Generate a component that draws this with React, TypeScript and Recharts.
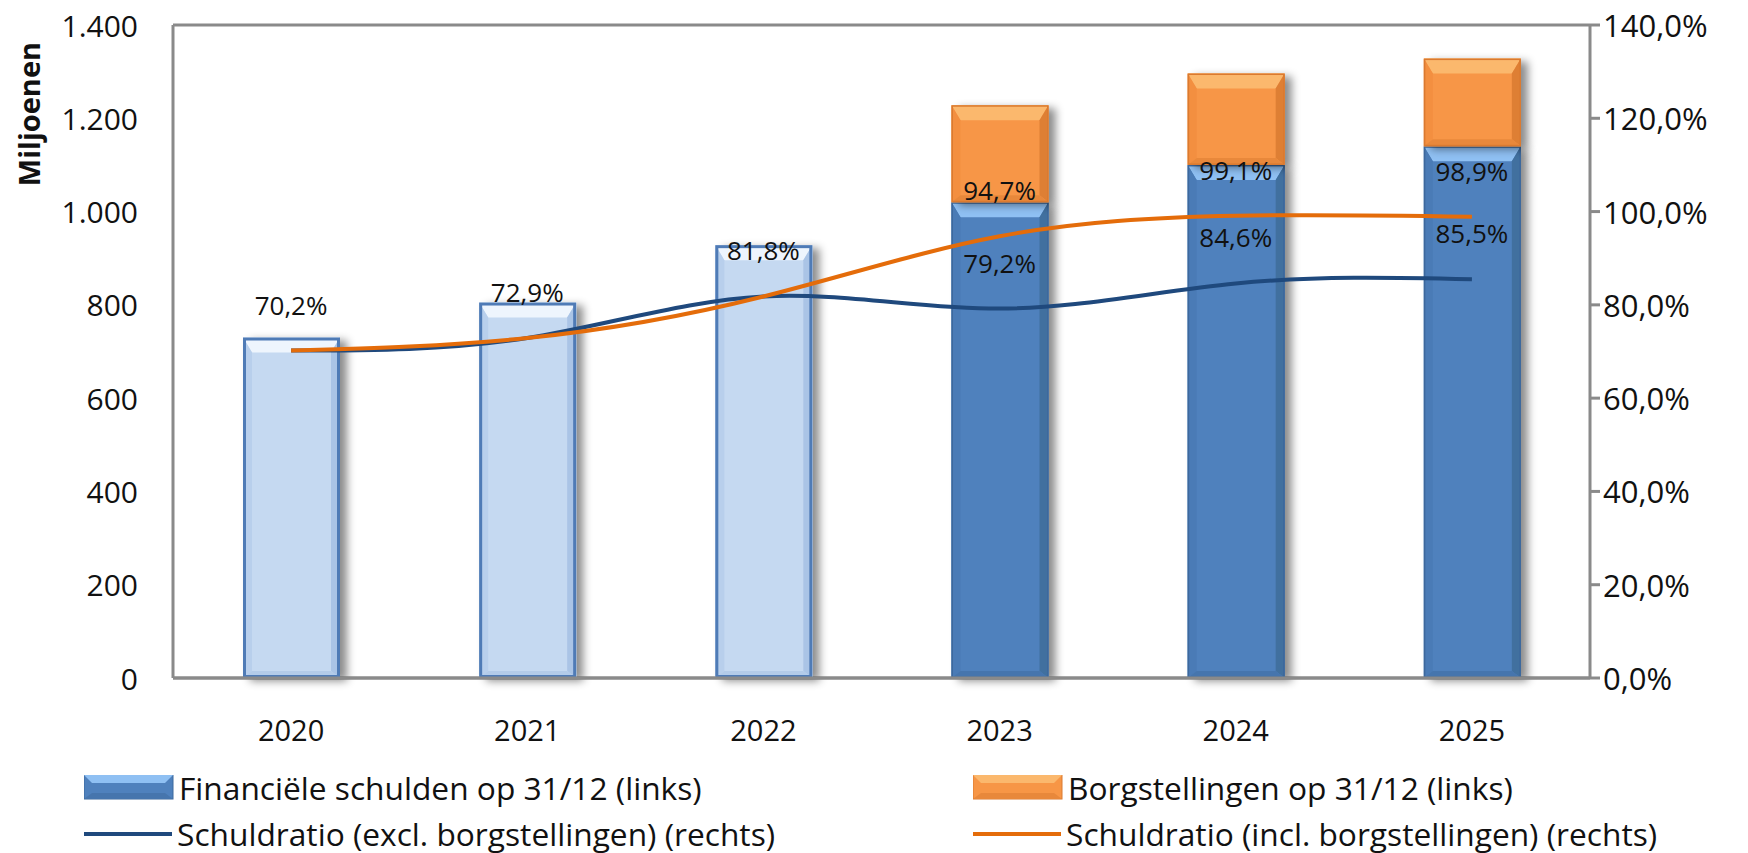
import React from 'react';
import { ComposedChart, Bar, Line, XAxis, YAxis, CartesianGrid, LabelList } from 'recharts';

const years = ['2020', '2021', '2022', '2023', '2024', '2025'];
const financieleSchulden = [730, 805, 928, 1020, 1100, 1140];
const borgstellingen = [null, null, null, 208, 196, 188];
const ratioExcl = [70.2, 72.9, 81.8, 79.2, 84.6, 85.5];
const ratioIncl = [70.2, 72.9, 81.8, 94.7, 99.1, 98.9];
const leftTicks = [0, 200, 400, 600, 800, 1000, 1200, 1400];
const rightTicks = [0, 20, 40, 60, 80, 100, 120, 140];
const firstProjectedYear = '2023';

const legendLabels = [
  'Financiële schulden op 31/12 (links)',
  'Borgstellingen op 31/12 (links)',
  'Schuldratio (excl. borgstellingen) (rechts)',
  'Schuldratio (incl. borgstellingen) (rechts)',
];

const data = years.map((y, i) => ({
  year: y,
  fin: financieleSchulden[i],
  borg: borgstellingen[i],
  excl: ratioExcl[i],
  incl: ratioIncl[i],
}));

const FONT = '"Open Sans", sans-serif';
const GRID = '#8a8a8a';
const BLUE_LINE = '#1f497d';
const ORANGE_LINE = '#e46c0a';

const fmtThousands = (v: number) => String(v).replace(/\B(?=(\d{3})+(?!\d))/g, '.');
const fmtPct = (v: number) => v.toFixed(1).replace('.', ',') + '%';

type Pal = { face: string; top: string; left: string; right: string; bottom: string; edge: string; edgeW: number };

const palLight: Pal = { face: '#c5d9f1', top: '#eef5fd', left: '#b8cfec', right: '#aac4e6', bottom: '#b3cbe9', edge: '#4f7bb6', edgeW: 3 };
const palBlue: Pal = { face: '#4f81bd', top: '#8fc0f3', left: '#4a7bb6', right: '#41709f', bottom: '#4675ad', edge: '#3d689c', edgeW: 1.5 };
const palOrange: Pal = { face: '#f79646', top: '#fbb86d', left: '#f38f40', right: '#de7f34', bottom: '#e8883b', edge: '#da7a30', edgeW: 1.5 };

const bevelShape = (getPal: (idx: number) => Pal) => (props: any) => {
  const { x, y, width, height, index } = props;
  if (height == null || height <= 0 || width <= 0) return <g />;
  const p = getPal(index);
  const s = 9;
  const t = Math.min(15, height / 2);
  const bb = Math.min(7, height / 3);
  return (
    <g>
      <rect x={x} y={y} width={width} height={height} fill={p.face} filter="url(#barShadow)" />
      <polygon points={`${x},${y} ${x + width},${y} ${x + width - s},${y + t} ${x + s},${y + t}`} fill={p.top} />
      <polygon points={`${x},${y} ${x + s},${y + t} ${x + s},${y + height - bb} ${x},${y + height}`} fill={p.left} />
      <polygon points={`${x + width},${y} ${x + width - s},${y + t} ${x + width - s},${y + height - bb} ${x + width},${y + height}`} fill={p.right} />
      <polygon points={`${x},${y + height} ${x + s},${y + height - bb} ${x + width - s},${y + height - bb} ${x + width},${y + height}`} fill={p.bottom} />
      <rect x={x + p.edgeW / 2} y={y + p.edgeW / 2} width={width - p.edgeW} height={height - p.edgeW} fill="none" stroke={p.edge} strokeWidth={p.edgeW} />
    </g>
  );
};

const finShape = bevelShape((i) => (years[i] >= firstProjectedYear ? palBlue : palLight));
const borgShape = bevelShape(() => palOrange);

const makeLabel = (hideWhenSame: boolean) => (props: any) => {
  const { x, y, value, index } = props;
  if (value == null) return null;
  if (hideWhenSame && ratioIncl[index] === ratioExcl[index]) return null;
  return (
    <text x={x} y={y - 46} textAnchor="middle" dominantBaseline="central" fontSize={26} fill="#111" fontFamily={FONT}>
      {fmtPct(value)}
    </text>
  );
};

const LeftTick = (props: any) => {
  const { y, payload } = props;
  return (
    <text x={138} y={y} textAnchor="end" dominantBaseline="central" fontSize={30} fill="#111" fontFamily={FONT}>
      {fmtThousands(payload.value)}
    </text>
  );
};

const RightTick = (props: any) => {
  const { y, payload } = props;
  return (
    <text x={1603} y={y} textAnchor="start" dominantBaseline="central" fontSize={31} fill="#111" fontFamily={FONT}>
      {fmtPct(payload.value)}
    </text>
  );
};

const XTick = (props: any) => {
  const { x, payload } = props;
  return (
    <text x={x} y={729} textAnchor="middle" dominantBaseline="central" fontSize={29} fill="#111" fontFamily={FONT}>
      {payload.value}
    </text>
  );
};

const BarSwatch = ({ pal }: { pal: Pal }) => (
  <svg width={90} height={26} style={{ display: 'block' }}>
    <rect x={0} y={0} width={89} height={24} fill={pal.face} stroke={pal.edge} strokeWidth={1} />
    <polygon points="0,0 89,0 81,8 8,8" fill={pal.top} />
    <polygon points="0,24 8,18 81,18 89,24" fill={pal.bottom} />
  </svg>
);

const LineSwatch = ({ color }: { color: string }) => (
  <svg width={90} height={8} style={{ display: 'block' }}>
    <line x1={0} y1={4} x2={88} y2={4} stroke={color} strokeWidth={4} />
  </svg>
);

const legendItem = (left: number, top: number, swatch: React.ReactNode, label: string, gap: number) => (
  <div style={{ position: 'absolute', left, top, height: 40, display: 'flex', alignItems: 'center' }}>
    {swatch}
    <span style={{ marginLeft: gap, fontSize: 31.7, fontFamily: FONT, color: '#111', whiteSpace: 'nowrap', lineHeight: '40px' }}>{label}</span>
  </div>
);

export default function App() {
  return (
    <div style={{ position: 'absolute', left: 0, top: 0, width: 1748, height: 853, background: '#fff', fontFamily: FONT }}>
      <svg width={0} height={0} style={{ position: 'absolute' }}>
        <defs>
          <filter id="barShadow" x="-20%" y="-10%" width="150%" height="130%">
            <feDropShadow dx={7} dy={3} stdDeviation={4} floodColor="#000" floodOpacity={0.45} />
          </filter>
        </defs>
      </svg>
      <ComposedChart width={1748} height={853} data={data} margin={{ top: 25, right: 0, left: 0, bottom: 0 }} barCategoryGap={0}>
        <CartesianGrid vertical={false} stroke={GRID} strokeWidth={3} />
        <XAxis dataKey="year" height={175} axisLine={{ stroke: GRID, strokeWidth: 3 }} tickLine={false} tick={<XTick />} interval={0} />
        <YAxis yAxisId="left" width={173} domain={[0, 1400]} ticks={leftTicks} axisLine={{ stroke: GRID, strokeWidth: 3 }} tickLine={false} tick={<LeftTick />} interval={0} />
        <YAxis yAxisId="right" orientation="right" width={158} domain={[0, 140]} ticks={rightTicks} axisLine={{ stroke: GRID, strokeWidth: 3 }} tickLine={{ stroke: GRID, strokeWidth: 3 }} tickSize={10} tick={<RightTick />} interval={0} />
        <Bar yAxisId="left" dataKey="fin" stackId="s" barSize={97} shape={finShape} isAnimationActive={false} />
        <Bar yAxisId="left" dataKey="borg" stackId="s" barSize={97} shape={borgShape} isAnimationActive={false} />
        <Line yAxisId="right" type="natural" dataKey="excl" stroke={BLUE_LINE} strokeWidth={4} dot={false} activeDot={false} isAnimationActive={false}>
          <LabelList dataKey="excl" content={makeLabel(false)} />
        </Line>
        <Line yAxisId="right" type="natural" dataKey="incl" stroke={ORANGE_LINE} strokeWidth={4} dot={false} activeDot={false} isAnimationActive={false}>
          <LabelList dataKey="incl" content={makeLabel(true)} />
        </Line>
      </ComposedChart>
      <div style={{ position: 'absolute', left: 28, top: 114, transform: 'translate(-50%, -50%) rotate(-90deg)', fontSize: 29, fontWeight: 700, fontFamily: FONT, color: '#111', whiteSpace: 'nowrap' }}>
        Miljoenen
      </div>
      {legendItem(84, 768, <BarSwatch pal={palBlue} />, legendLabels[0], 5)}
      {legendItem(973, 768, <BarSwatch pal={palOrange} />, legendLabels[1], 5)}
      {legendItem(84, 814, <LineSwatch color={BLUE_LINE} />, legendLabels[2], 3)}
      {legendItem(973, 814, <LineSwatch color={ORANGE_LINE} />, legendLabels[3], 3)}
    </div>
  );
}
